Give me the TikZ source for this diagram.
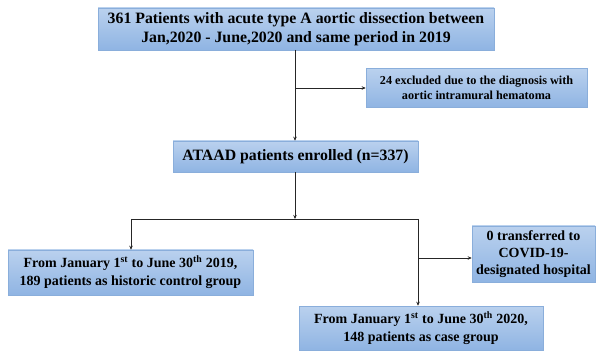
\documentclass[tikz,border=0pt]{standalone}
\usepackage{fontspec}
\setmainfont{Liberation Serif}
\usetikzlibrary{arrows.meta}
\definecolor{boxtop}{HTML}{BAD1EE}
\definecolor{boxbot}{HTML}{8FB4E3}
\definecolor{boxedge}{HTML}{8AAEDB}
\tikzset{
  fbox/.style={draw=boxedge, line width=0.5pt, top color=boxtop, bottom color=boxbot,
    align=center, inner sep=0pt, font=\bfseries, text=black},
  conn/.style={draw=black!85, line width=0.7pt},
  arr/.style={conn, -{Stealth[length=4pt,width=3.5pt]}}
}
\begin{document}
\begin{tikzpicture}[x=1pt,y=-1pt]
\useasboundingbox (0,0) rectangle (607,352);
\node[fbox, minimum width=396pt, minimum height=42pt, font=\bfseries\fontsize{15.8}{19}\selectfont] (top) at (296,29)
  {361 Patients with acute type A aortic dissection between\\Jan,2020 - June,2020 and same period in 2019};
\node[fbox, minimum width=221pt, minimum height=39pt, font=\bfseries\fontsize{12.2}{15.5}\selectfont] (excl) at (476.5,88)
  {24 excluded due to the diagnosis with\\aortic intramural hematoma};
\node[fbox, minimum width=245pt, minimum height=31pt, font=\bfseries\fontsize{15.8}{19}\selectfont] (enr) at (295.5,156.5)
  {ATAAD patients enrolled (n=337)};
\node[fbox, minimum width=245pt, minimum height=45pt, font=\bfseries\fontsize{14}{18}\selectfont] (left) at (130.5,272.5)
  {From January 1\textsuperscript{st} to June 30\textsuperscript{th} 2019,\\189 patients as historic control group};
\node[fbox, minimum width=123pt, minimum height=56pt, font=\bfseries\fontsize{14}{17}\selectfont] (trans) at (533.5,254)
  {0 transferred to\\COVID-19-\\designated hospital};
\node[fbox, minimum width=244pt, minimum height=44pt, font=\bfseries\fontsize{14}{18}\selectfont] (bot) at (421,328)
  {From January 1\textsuperscript{st} to June 30\textsuperscript{th} 2020,\\148 patients as case group};
\coordinate (t1) at (295,50);
\coordinate (b1) at (295,88);
\coordinate (hm) at (295,219);
\coordinate (hl) at (131,219);
\coordinate (hr) at (418,219);
\coordinate (b2) at (418,258);
\draw[arr] (t1) -- (t1 |- enr.north);
\draw[arr] (b1) -- (excl.west);
\draw[arr] (enr.south -| hm) -- (hm);
\draw[conn] (hl) -- (hr);
\draw[arr] (hl) -- (hl |- left.north);
\draw[arr] (hr) -- (hr |- bot.north);
\draw[arr] (b2) -- (b2 -| trans.west);
\end{tikzpicture}
\end{document}
